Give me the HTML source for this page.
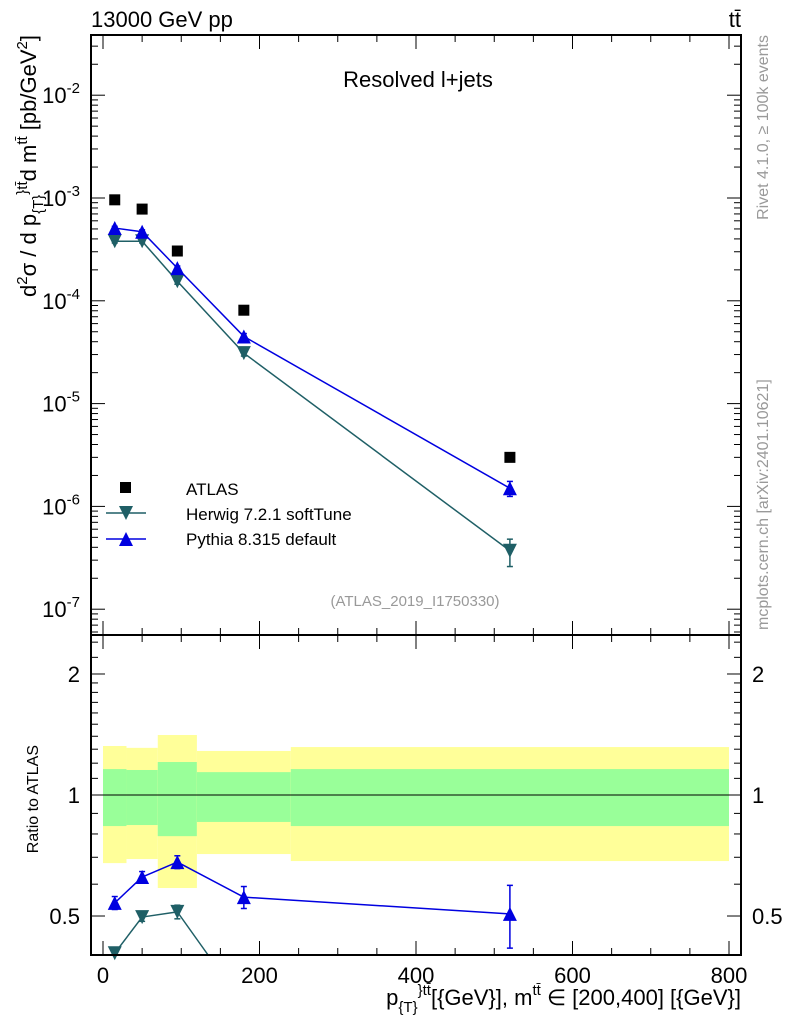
<!DOCTYPE html>
<html><head><meta charset="utf-8"><style>
html,body{margin:0;background:#fff;font-family:"Liberation Sans",sans-serif;overflow:hidden;width:786px;height:1024px}
svg{display:block;overflow:hidden}
svg text{font-family:"Liberation Sans","DejaVu Sans",sans-serif}
</style></head><body>
<svg id="c" width="786" height="1024" xmlns="http://www.w3.org/2000/svg"></svg>
<script>
const xCenters=[15,50,95,180,520];
const binEdges=[0,30,70,120,240,800];
const atlas=[9.6e-4,7.8e-4,3.05e-4,8.1e-5,3.0e-6];
const pythia=[5.1e-4,4.7e-4,2.08e-4,4.5e-5,1.5e-6];
const pythiaErr=[0.2e-4,0.2e-4,0.1e-4,0.3e-5,0.25e-6];
const herwig=[3.8e-4,3.8e-4,1.55e-4,3.1e-5,3.7e-7];
const herwigErr=[0.15e-4,0.15e-4,0.1e-4,0.2e-5,1.1e-7];
const ratioPythia=[0.539,0.625,0.681,0.557,0.506];
const ratioPythiaErr=[0.02,0.02,0.025,0.035,0.09];
const ratioHerwig=[0.404,0.497,0.512,0.30,0.12];
const ratioHerwigErr=[0.01,0.012,0.02,0.02,0.04];
const greenHi=[1.16,1.154,1.208,1.14,1.16];
const greenLo=[0.837,0.842,0.79,0.857,0.837];
const yellowHi=[1.324,1.31,1.41,1.287,1.316];
const yellowLo=[0.677,0.693,0.587,0.713,0.685];
const xTicks=[0,200,400,600,800];
const yTicksExp=[-7,-6,-5,-4,-3,-2];
const rTicks=[0.5,1,2];

const svg=document.getElementById('c');
const NS='http://www.w3.org/2000/svg';
function el(t,a,p){const e=document.createElementNS(NS,t);for(const k in a)e.setAttribute(k,a[k]);(p||svg).appendChild(e);return e;}
const L=91,R=741,T=35,M=635,B=955;
const X=v=>103+(v)*(729-103)/800;
const Y=v=>198-(Math.log10(v)+3)*102.8;
const RY=v=>795-Math.log10(v)*402;

const gR=el('g',{});

for(let i=0;i<xCenters.length;i++){
  const x0=X(binEdges[i]),x1=X(binEdges[i+1]);
  const y=el('rect',{x:x0,y:RY(yellowHi[i]),width:x1-x0,height:RY(yellowLo[i])-RY(yellowHi[i]),fill:'#ffff99'},gR);
  
  const g=el('rect',{x:x0,y:RY(greenHi[i]),width:x1-x0,height:RY(greenLo[i])-RY(greenHi[i]),fill:'#99ff99'},gR);
  
}
el('line',{x1:L,x2:R,y1:RY(1),y2:RY(1),stroke:'#000','stroke-width':1},gR);

function tri(g,x,y,down,col){
  const s=7;
  const pts=down?`${x-s},${y-s} ${x+s},${y-s} ${x},${y+s}`:`${x-s},${y+s} ${x+s},${y+s} ${x},${y-s}`;
  const p=el('polygon',{points:pts,fill:col},g);
  
}
function err(g,x,y1,y2,col,top,bot){
  const c1=Math.max(top,Math.min(bot,y1)),c2=Math.max(top,Math.min(bot,y2));
  if(c1===c2)return;
  el('line',{x1:x,x2:x,y1:c1,y2:c2,stroke:col,'stroke-width':1.5},g);
  if(y1>=top&&y1<=bot)el('line',{x1:x-3,x2:x+3,y1:y1,y2:y1,stroke:col,'stroke-width':1.5},g);
  if(y2>=top&&y2<=bot)el('line',{x1:x-3,x2:x+3,y1:y2,y2:y2,stroke:col,'stroke-width':1.5},g);
}
function series(g,vals,errs,yf,col,down,name,top,bot){
  const pts=vals.map((v,i)=>[X(xCenters[i]),yf(v)]);
  for(let i=0;i<pts.length-1;i++){
    let [x1,y1]=pts[i],[x2,y2]=pts[i+1];
    if((y1>bot&&y2>bot)||(y1<top&&y2<top))continue;
    const clip=(xa,ya,xb,yb)=>{let lim=yb>bot?bot:(yb<top?top:null);if(lim===null)return[xb,yb];const t=(lim-ya)/(yb-ya);return[xa+t*(xb-xa),lim];};
    const p2=clip(x1,y1,x2,y2),p1=clip(x2,y2,x1,y1);
    const ln=el('line',{x1:p1[0],y1:p1[1],x2:p2[0],y2:p2[1],stroke:col,'stroke-width':1.5},g);
    
  }
  vals.forEach((v,i)=>{const x=pts[i][0],y=pts[i][1];
    err(g,x,yf(v+errs[i]),yf(Math.max(v-errs[i],1e-12)),col,top,bot);
    if(y>=top&&y<=bot)tri(g,x,y,down,col);});
}
series(gR,ratioHerwig,ratioHerwigErr,RY,'#1f5f66',true,'herwig-ratio',M,B);
series(gR,ratioPythia,ratioPythiaErr,RY,'#0000e0',false,'pythia-ratio',M,B);

const gM=el('g',{});

series(gM,herwig,herwigErr,Y,'#1f5f66',true,'herwig',T,M);
series(gM,pythia,pythiaErr,Y,'#0000e0',false,'pythia',T,M);
atlas.forEach((v,i)=>{const r=el('rect',{x:X(xCenters[i])-5.5,y:Y(v)-5.5,width:11,height:11,fill:'#000'},gM);
});

el('rect',{x:L,y:T,width:R-L,height:M-T,fill:'none',stroke:'#000','stroke-width':2});
el('rect',{x:L,y:M,width:R-L,height:B-M,fill:'none',stroke:'#000','stroke-width':2});

for(let v=0;v<=800;v+=50){
  const major=v%200===0, x=X(v), h=major?14:7;
  [[T,1],[M,1],[M,-1],[B,-1]].forEach(([y0,d])=>el('line',{x1:x,x2:x,y1:y0,y2:y0+d*h,stroke:'#000','stroke-width':1}));
}
xTicks.forEach(v=>{const t=el('text',{x:X(v),y:983,'font-size':22,'text-anchor':'middle'});t.textContent=v;
});

for(let e=-8;e<=-1;e++){for(let m=1;m<10;m++){const v=m*Math.pow(10,e),y=Y(v);if(y<T||y>M)continue;
  const h=m===1?14:7;el('line',{x1:L,x2:L+h,y1:y,y2:y,stroke:'#000'});el('line',{x1:R,x2:R-h,y1:y,y2:y,stroke:'#000'});}}
yTicksExp.forEach(e=>{const t=el('text',{x:80,y:Y(Math.pow(10,e))+8,'font-size':22,'text-anchor':'end'});
t.innerHTML='10<tspan dy="-10" font-size="15">'+e+'</tspan>';
});

const rt=[0.4,0.5,0.6,0.7,0.8,0.9,1,1.1,1.2,1.3,1.4,1.5,1.6,1.7,1.8,1.9,2,2.2,2.4];
rt.forEach(v=>{const y=RY(v);if(y<M||y>B)return;const h=[0.5,1,2].includes(v)?14:7;
el('line',{x1:L,x2:L+h,y1:y,y2:y,stroke:'#000'});el('line',{x1:R,x2:R-h,y1:y,y2:y,stroke:'#000'});});
rTicks.forEach(v=>{[[80,'end'],[752,'start']].forEach(([x,a])=>{const t=el('text',{x:x,y:RY(v)+8,'font-size':22,'text-anchor':a});t.textContent=v;
});});

function txt(x,y,s,attrs,name,html){const t=el('text',Object.assign({x:x,y:y},attrs));if(html)t.innerHTML=s;else t.textContent=s;
return t;}
txt(91,27,'13000 GeV pp',{'font-size':22},'energy-label');
txt(741,27,'tt̄',{'font-size':22,'text-anchor':'end'},'process-label');
txt(418,87,'Resolved l+jets',{'font-size':22,'text-anchor':'middle'},'plot-title');
txt(415,606,'(ATLAS_2019_I1750330)',{'font-size':15,'text-anchor':'middle',fill:'#999'},'analysis-id');
txt(0,0,'Rivet 4.1.0, ≥ 100k events',{'font-size':16,fill:'#999','text-anchor':'end',transform:'translate(768,35) rotate(-90)'},'rivet-label');
txt(0,0,'mcplots.cern.ch [arXiv:2401.10621]',{'font-size':16,fill:'#999','text-anchor':'start',transform:'translate(768,630) rotate(-90)'},'mcplots-label');
txt(0,0,'d<tspan dy="-9" font-size="15">2</tspan><tspan dy="9">σ / d p</tspan><tspan dy="7" font-size="15">{T}</tspan><tspan dy="-16" font-size="15">}tt̄</tspan><tspan dy="9">d m</tspan><tspan dy="-9" font-size="15">tt̄</tspan><tspan dy="9"> [pb/GeV</tspan><tspan dy="-9" font-size="15">2</tspan><tspan dy="9">]</tspan>',{'font-size':22,'text-anchor':'end',transform:'translate(36,35) rotate(-90)'},'y-axis-title',true);
txt(0,0,'Ratio to ATLAS',{'font-size':16,'text-anchor':'end',transform:'translate(38,745) rotate(-90)'},'ratio-axis-title');
txt(741,1005,'p<tspan dy="7" font-size="15">{T}</tspan><tspan dy="-17" font-size="15">}tt̄</tspan><tspan dy="10">[{GeV}], m</tspan><tspan dy="-10" font-size="15">tt̄</tspan><tspan dy="10"> ∈ [200,400] [{GeV}]</tspan>',{'font-size':22,'text-anchor':'end'},'x-axis-title',true);

const lg=el('g',{});
el('rect',{x:120,y:482,width:11,height:11,fill:'#000'},lg);
txt(186,495,'ATLAS',{'font-size':17},'legend-atlas');
el('line',{x1:106,x2:146,y1:513,y2:513,stroke:'#1f5f66','stroke-width':1.5},lg);tri(lg,126,513,true,'#1f5f66');
txt(186,520,'Herwig 7.2.1 softTune',{'font-size':17},'legend-herwig');
el('line',{x1:106,x2:146,y1:539,y2:539,stroke:'#0000e0','stroke-width':1.5},lg);tri(lg,126,539,false,'#0000e0');
txt(186,545,'Pythia 8.315 default',{'font-size':17},'legend-pythia');
</script>
</body></html>
